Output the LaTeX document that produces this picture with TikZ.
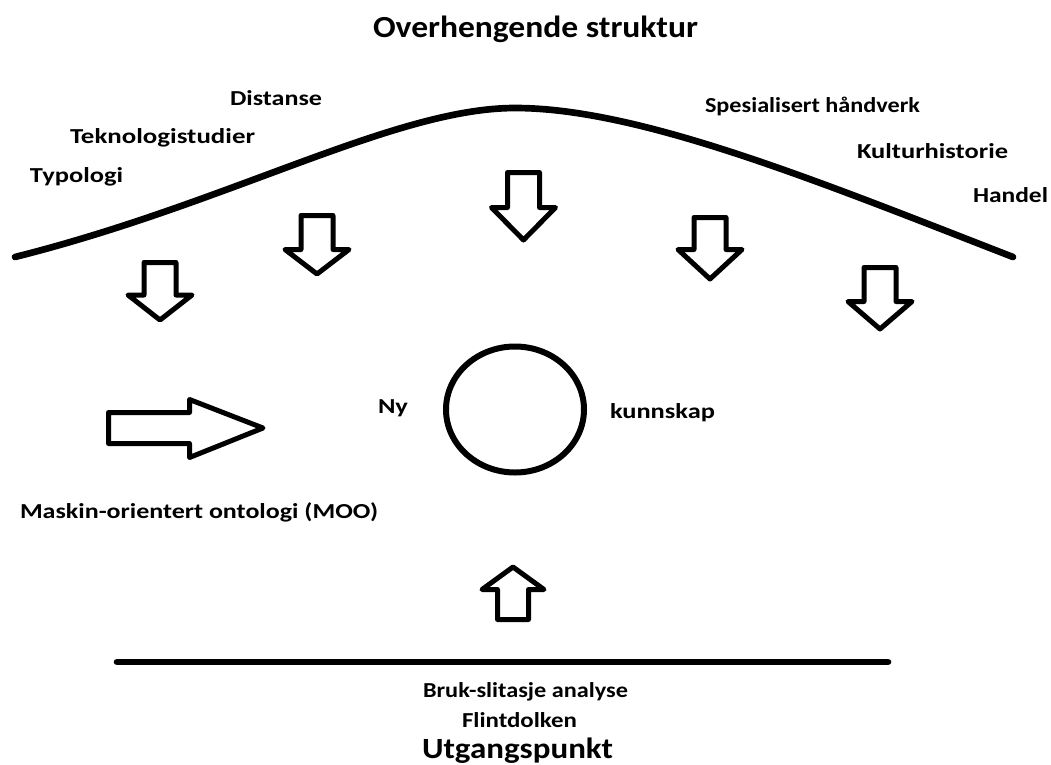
\documentclass[tikz,border=0pt]{standalone}
\usepackage{fontspec}
\setmainfont{Carlito}
\usepackage{graphicx}
\usetikzlibrary{shapes.geometric}
\newcommand\fitw[2]{\resizebox{\dimexpr #1pt*3/4\relax}{\height}{#2}}
\newcommand\blockdown[4]{\draw[blockarrow] ({#1-16},#2) -- ({#1+16},#2) -- ({#1+16},#3) -- ({#1+32},#3) -- (#1,#4) -- ({#1-32},#3) -- ({#1-16},#3) -- cycle;}
\begin{document}
\begin{tikzpicture}[x=0.75pt,y=-0.75pt,
  lbl/.style={anchor=base west, inner sep=0pt, outer sep=0pt, font=\bfseries\fontsize{16}{19}\selectfont},
  biglbl/.style={lbl, font=\bfseries\fontsize{23}{27}\selectfont},
  blockarrow/.style={draw=black, line width=3.75pt, line join=round, fill=white},
  heavyline/.style={line width=5pt, line cap=round}]
\useasboundingbox (0,0) rectangle (1051,765);

% overarching structure curve
\coordinate (curveL) at (15,257);
\coordinate (curveTop) at (515,108);
\coordinate (curveR) at (1013,257);
\draw[heavyline] (curveL) .. controls (230,203) and (395,108) .. (curveTop)
                 .. controls (640,108) and (820,182) .. (curveR);

% title and topic labels
\node[biglbl] (title) at (373,37) {\fitw{325}{Overhengende struktur}};
\node[lbl] (distanse) at (230,105) {\fitw{92}{Distanse}};
\node[lbl] (tekno) at (70,143) {\fitw{185}{Teknologistudier}};
\node[lbl] (typo) at (30,182) {\fitw{93}{Typologi}};
\node[lbl] (spes) at (705,112) {\fitw{215}{Spesialisert håndverk}};
\node[lbl] (kultur) at (857,158) {\fitw{151}{Kulturhistorie}};
\node[lbl] (handel) at (973,202) {\fitw{75}{Handel}};

% down arrows
\blockdown{160}{262.5}{295}{320}
\blockdown{317}{215.5}{249.5}{274}
\blockdown{523.5}{172.5}{207.5}{240}
\blockdown{710}{217.5}{249.5}{279}
\blockdown{880}{267.5}{301.5}{329}

% centre
\node[draw, ellipse, line width=4.5pt, minimum width=103.5pt, minimum height=94.5pt, inner sep=0pt] (knowledge) at (515,409.5) {};
\node[lbl] (ny) at (378,413) {\fitw{30}{Ny}};
\node[lbl] (kunnskap) at (610,418) {\fitw{105}{kunnskap}};

% right arrow (MOO)
\draw[blockarrow] (108.5,412.5) -- (189.5,412.5) -- (189.5,399.5) -- (263,428) -- (189.5,457.5) -- (189.5,443.5) -- (108.5,443.5) -- cycle;
\node[lbl] (moo) at (20,518) {\fitw{358}{Maskin-orientert ontologi (MOO)}};

% up arrow
\draw[blockarrow] (497.5,619.5) -- (528.5,619.5) -- (528.5,589.5) -- (544,589.5) -- (513,567) -- (482,589.5) -- (497.5,589.5) -- cycle;

% base line
\coordinate (baseL) at (117,662);
\coordinate (baseR) at (888,662);
\draw[heavyline] (baseL) -- (baseR);

\node[lbl] (bruk) at (423,697) {\fitw{205}{Bruk-slitasje analyse}};
\node[lbl] (flint) at (462,727) {\fitw{115}{Flintdolken}};
\node[biglbl, font=\bfseries\fontsize{22}{26}\selectfont] (utg) at (422,758) {\fitw{191}{Utgangspunkt}};
\end{tikzpicture}
\end{document}
